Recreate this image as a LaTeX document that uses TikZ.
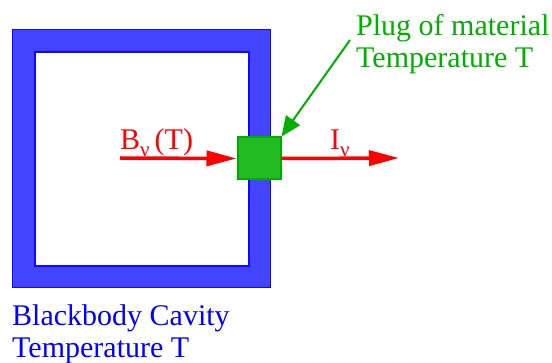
\documentclass[tikz,border=0pt]{standalone}
\usepackage{fontspec}
\setmainfont{Liberation Serif}
\usetikzlibrary{arrows.meta}
\definecolor{wallblue}{RGB}{68,68,255}
\definecolor{edgeblue}{RGB}{10,10,255}
\definecolor{plugfill}{RGB}{34,187,34}
\definecolor{plugedge}{RGB}{0,170,0}
\definecolor{labelgreen}{RGB}{0,175,0}
\definecolor{labelred}{RGB}{255,0,0}
\tikzset{
  bigtext/.style={font=\fontsize{30}{32}\selectfont, inner sep=0pt},
  beam/.style={draw=labelred, line width=3.5pt, -{Triangle[length=30pt,width=15pt]}},
  pointer/.style={draw=labelgreen, line width=2pt, -{Triangle[length=20pt,width=17pt]}},
}
\newcommand{\subnu}{\raisebox{-0.22em}{\fontsize{21}{21}\selectfont ν}}
\begin{document}
\begin{tikzpicture}[x=1pt,y=-1pt]
\useasboundingbox (0,0) rectangle (552,363);
\node[draw=edgeblue, fill=wallblue, line width=1pt, minimum width=258pt, minimum height=258pt, inner sep=0pt, anchor=north west] (outer) at (12,29) {};
\node[draw=edgeblue, fill=white, line width=1.8pt, minimum width=214pt, minimum height=214pt, inner sep=0pt, anchor=north west] (inner) at (34,51) {};
\node[draw=plugedge, fill=plugfill, line width=2pt, minimum width=43pt, minimum height=42pt, inner sep=0pt] (plug) at (259,158.5) {};
\coordinate (bstart) at (120,158);
\coordinate (iend) at (399,158);
\draw[beam] (bstart) -- (plug.west);
\draw[beam] (plug.east) -- (iend);
\node[bigtext, text=labelred, anchor=base west] (blabel) at (120,150) {B\subnu\,(T)};
\node[bigtext, text=labelred, anchor=base west] (ilabel) at (330,150) {I\subnu};
\node[bigtext, text=labelgreen, anchor=north west, align=left] (pluglabel) at (356,14) {Plug of material\\Temperature T};
\coordinate (pstart) at (350,40);
\draw[pointer] (pstart) -- (plug.north east);
\node[bigtext, text=blue, anchor=north west, align=left] (cavlabel) at (12,304) {Blackbody Cavity\\Temperature T};
\end{tikzpicture}
\end{document}
